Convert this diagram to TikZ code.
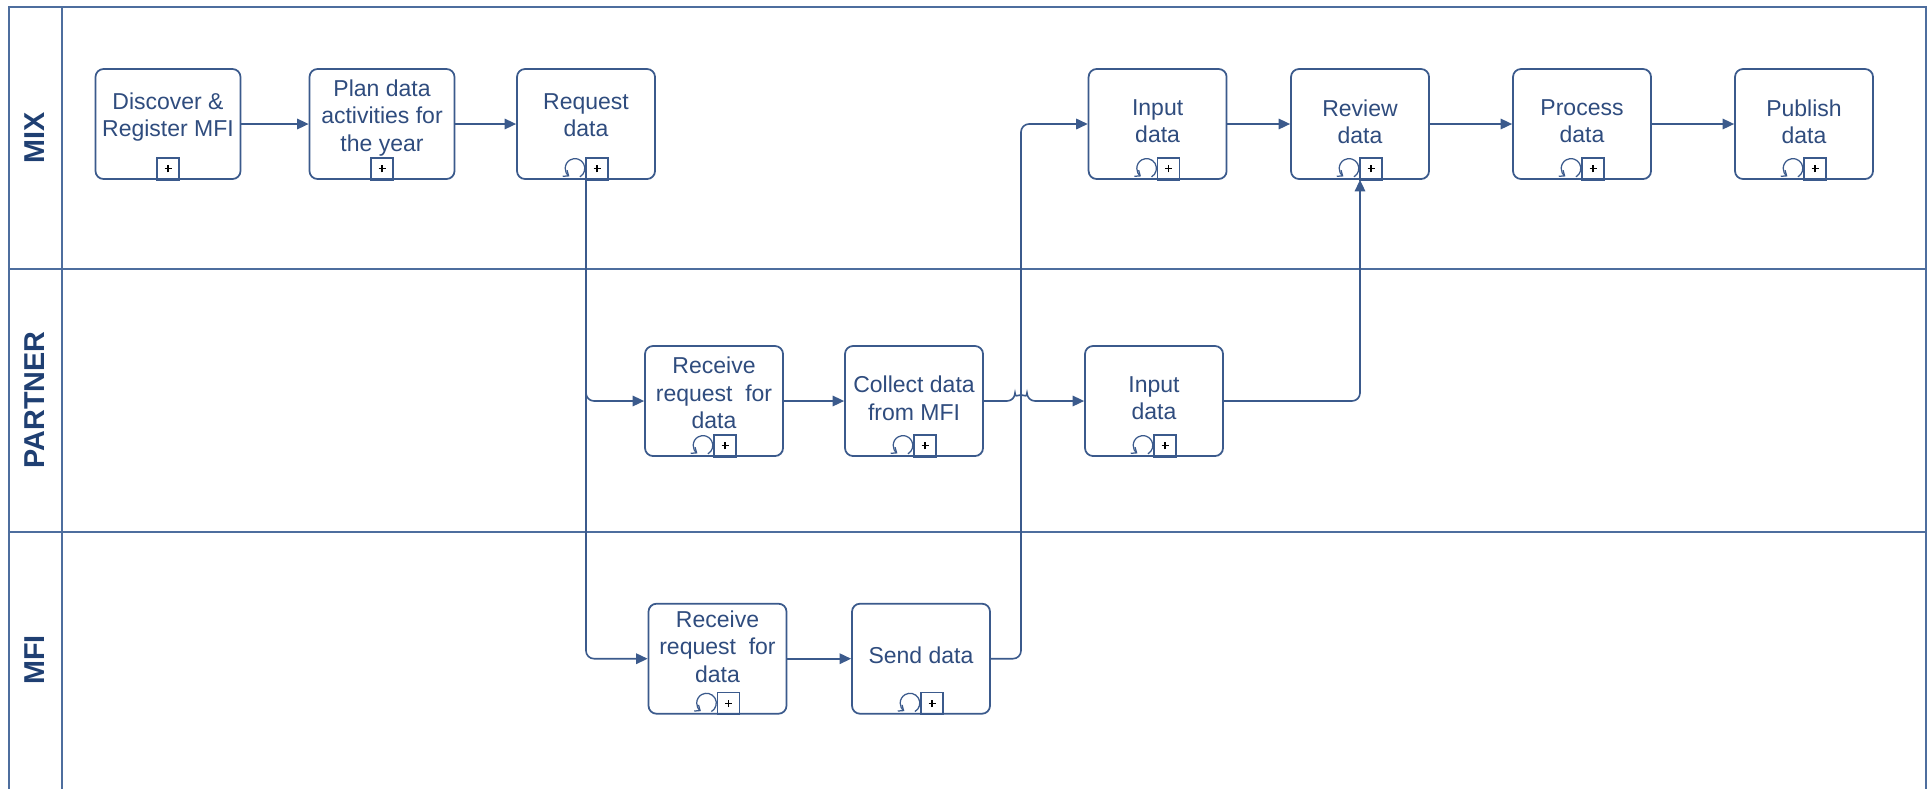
\documentclass[tikz,border=0pt]{standalone}
\usepackage{fontspec}
\setmainfont{Liberation Sans}
\usetikzlibrary{arrows.meta,calc}
\definecolor{lnc}{HTML}{3B5A8C}
\definecolor{txc}{HTML}{2F4C7E}
\definecolor{frc}{HTML}{4E6E9E}
\definecolor{lbc}{HTML}{1F3F72}
\newcommand\submark[1]{%
  \draw[mk] ($(#1.south)+(-11,0)$) rectangle ($(#1.south)+(11,-22)$);
  \draw[pl] ($(#1.south)+(-3.5,-11)$) -- ++(7,0) ($(#1.south)+(0,-7.5)$) -- ++(0,-7);}
\newcommand\loopmark[1]{%
  \draw[mk] ($(#1.south)$) rectangle ($(#1.south)+(22,-22)$);
  \draw[pl] ($(#1.south)+(7.5,-11)$) -- ++(7,0) ($(#1.south)+(11,-7.5)$) -- ++(0,-7);
  \draw[mk,-{Straight Barb[length=1.8pt,width=3pt]}] ($(#1.south)+(-11,-11.5)+(60:9.8)$) arc[start angle=60,end angle=-235,radius=9.8];}
\tikzset{
  task/.style={draw=lnc, line width=0.7pt, rounded corners=3.2pt, minimum height=44pt, inner sep=0pt, fill=white},
  wA/.style={minimum width=58pt},
  wB/.style={minimum width=55.2pt},
  ttext/.style={text=txc, align=center, font=\fontsize{9.2}{10.9}\selectfont, inner sep=0pt},
  flow/.style={draw=lnc, line width=0.65pt, -{Triangle[length=4.6pt,width=4.2pt]}, rounded corners=3.2pt},
  mk/.style={draw=lnc, line width=0.5pt},
  pl/.style={draw=black, line width=0.45pt},
  frame/.style={draw=frc, line width=0.8pt},
  lane/.style={text=lbc, font=\bfseries\fontsize{11.5}{13}\selectfont, rotate=90, inner sep=0pt},
}
\begin{document}
\begin{tikzpicture}[x=0.4pt,y=-0.4pt]
\useasboundingbox[fill=white] (0,0) rectangle (1931,788);
% frame and lanes
\draw[frame] (8.5,800) -- (8.5,7.3) -- (1925.7,7.3) -- (1925.7,800);
\draw[frame] (61.7,7.3) -- (61.7,800);
\draw[frame] (8.5,269) -- (1925.7,269);
\draw[frame] (8.5,531.7) -- (1925.7,531.7);
\node[lane] (lmix) at (35,138) {MIX};
\node[lane] (lpar) at (35,400) {PARTNER};
\node[lane] (lmfi) at (35,660) {MFI};
% tasks
\node[task,wA] (disc) at (168,124) {};
\node[task,wA] (plan) at (382,124) {};
\node[task,wB] (req)  at (586,124) {};
\node[task,wB] (inpm) at (1157.6,124) {};
\node[task,wB] (rev)  at (1360,124) {};
\node[task,wB] (proc) at (1582,124) {};
\node[task,wB] (pub)  at (1804,124) {};
\node[task,wB] (recp) at (714,401) {};
\node[task,wB] (coll) at (914,401) {};
\node[task,wB] (inpp) at (1154,401) {};
\node[task,wB] (recm) at (717.5,658.7) {};
\node[task,wB] (send) at (921,658.7) {};
% texts
\node[ttext] (t1) at ($(disc)+(0,-7)$) {Discover \&\\Register MFI};
\node[ttext] (t2) at ($(plan)+(0,-6)$) {Plan data\\activities for\\the year};
\node[ttext] (t3) at ($(req)+(0,-8.5)$) {Request\\data};
\node[ttext] (t4) at ($(inpm)+(0,-3)$) {Input\\data};
\node[ttext] (t5) at ($(rev)+(0,-2.5)$) {Review\\data};
\node[ttext] (t6) at ($(proc)+(0,-2.5)$) {Process\\data};
\node[ttext] (t7) at ($(pub)+(0,-2.5)$) {Publish\\data};
\node[ttext] (t8) at ($(recp)+(0,-8)$) {Receive\\request\ \ for\\data};
\node[ttext] (t9) at ($(coll)+(0,-2.7)$) {Collect data\\from MFI};
\node[ttext] (t10) at ($(inpp)+(0,-2.7)$) {Input\\data};
\node[ttext] (t11) at ($(recm)+(0,-12)$) {Receive\\request\ \ for\\data};
\node[ttext] (t12) at ($(send)+(0,-3)$) {Send data};
% markers
\submark{disc}
\submark{plan}
\loopmark{req}
\loopmark{inpm}
\loopmark{rev}
\loopmark{proc}
\loopmark{pub}
\loopmark{recp}
\loopmark{coll}
\loopmark{inpp}
\loopmark{recm}
\loopmark{send}
% connectors
\coordinate (vx) at (1021,124);
\coordinate (hopL) at (1015,401);
\draw[flow] (disc) -- (plan);
\draw[flow] (plan) -- (req);
\draw[flow] (req.south) |- (recp.west);
\draw[flow] (req.south) |- (recm.west);
\draw[flow] (recp) -- (coll);
\draw[flow] (coll.east) -- (hopL) arc[start angle=180,end angle=360,radius=6] -- (inpp.west);
\draw[flow] (recm) -- (send);
\draw[flow] (send.east) -| (vx) -- (inpm.west);
\draw[flow] (inpm) -- (rev);
\draw[flow] (rev) -- (proc);
\draw[flow] (proc) -- (pub);
\draw[flow] (inpp.east) -| (rev.south);
\end{tikzpicture}
\end{document}
